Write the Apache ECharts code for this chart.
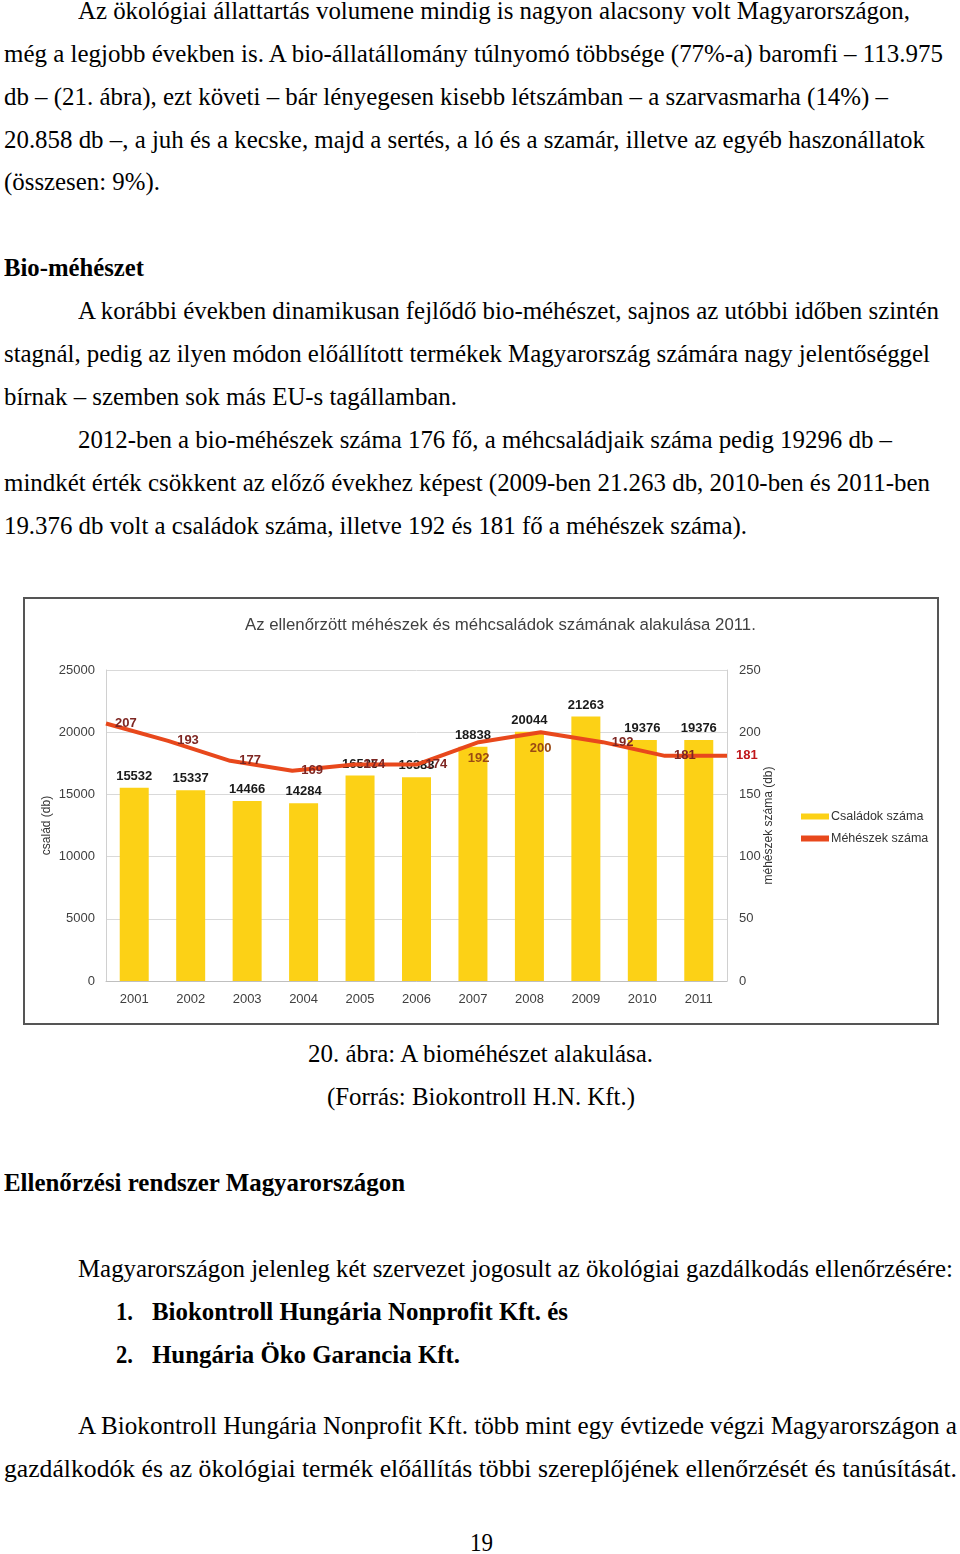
<!DOCTYPE html>
<html>
<head>
<meta charset="utf-8">
<script src="https://cdn.jsdelivr.net/npm/echarts@6/dist/echarts.min.js"></script>
<style>
  html, body { margin: 0; padding: 0; background: #fff; }
  body { width: 960px; height: 1554px; position: relative; overflow: hidden; }
  .ln { position: absolute; white-space: nowrap; font-family: "Liberation Serif", "DejaVu Serif", serif;
        font-size: 25px; line-height: 24px; color: #000; transform-origin: 0 0; }
  .b { font-weight: bold; }
  #box { position: absolute; left: 23px; top: 597px; width: 912px; height: 424px; border: 2px solid #555; }
  #chart { width: 912px; height: 424px; }
</style>
</head>
<body>
<div class="ln" style="left:78px;top:-1px" data-r="910">Az ökológiai állattartás volumene mindig is nagyon alacsony volt Magyarországon,</div>
<div class="ln" style="left:4px;top:42px" data-r="943">még a legjobb években is. A bio-állatállomány túlnyomó többsége (77%-a) baromfi – 113.975</div>
<div class="ln" style="left:4px;top:85px" data-r="888">db – (21. ábra), ezt követi – bár lényegesen kisebb létszámban – a szarvasmarha (14%) –</div>
<div class="ln" style="left:4px;top:128px" data-r="925">20.858 db –, a juh és a kecske, majd a sertés, a ló és a szamár, illetve az egyéb haszonállatok</div>
<div class="ln" style="left:4px;top:170px" data-r="160">(összesen: 9%).</div>

<div class="ln b" style="left:4px;top:256px" data-r="144">Bio-méhészet</div>
<div class="ln" style="left:78px;top:299px" data-r="939">A korábbi években dinamikusan fejlődő bio-méhészet, sajnos az utóbbi időben szintén</div>
<div class="ln" style="left:4px;top:342px" data-r="930">stagnál, pedig az ilyen módon előállított termékek Magyarország számára nagy jelentőséggel</div>
<div class="ln" style="left:4px;top:385px" data-r="457">bírnak – szemben sok más EU-s tagállamban.</div>
<div class="ln" style="left:78px;top:428px" data-r="892">2012-ben a bio-méhészek száma 176 fő, a méhcsaládjaik száma pedig 19296 db –</div>
<div class="ln" style="left:4px;top:471px" data-r="930">mindkét érték csökkent az előző évekhez képest (2009-ben 21.263 db, 2010-ben és 2011-ben</div>
<div class="ln" style="left:4px;top:514px" data-r="747">19.376 db volt a családok száma, illetve 192 és 181 fő a méhészek száma).</div>

<div id="box"><div id="chart"></div></div>

<div class="ln" style="left:308px;top:1042px" data-r="653">20. ábra: A bioméhészet alakulása.</div>
<div class="ln" style="left:327px;top:1085px" data-r="635">(Forrás: Biokontroll H.N. Kft.)</div>

<div class="ln b" style="left:4px;top:1171px" data-r="405">Ellenőrzési rendszer Magyarországon</div>
<div class="ln" style="left:78px;top:1257px" data-r="953">Magyarországon jelenleg két szervezet jogosult az ökológiai gazdálkodás ellenőrzésére:</div>
<div class="ln b" style="left:116px;top:1300px" data-r="133">1.</div>
<div class="ln b" style="left:152px;top:1300px" data-r="568">Biokontroll Hungária Nonprofit Kft. és</div>
<div class="ln b" style="left:116px;top:1343px" data-r="133">2.</div>
<div class="ln b" style="left:152px;top:1343px" data-r="460">Hungária Öko Garancia Kft.</div>
<div class="ln" style="left:78px;top:1414px" data-r="957">A Biokontroll Hungária Nonprofit Kft. több mint egy évtizede végzi Magyarországon a</div>
<div class="ln" style="left:4px;top:1457px" data-r="957">gazdálkodók és az ökológiai termék előállítás többi szereplőjének ellenőrzését és tanúsítását.</div>
<div class="ln" style="left:470px;top:1531px" data-r="493">19</div>

<script type="text/javascript">
  // chart data
  var years = ['2001', '2002', '2003', '2004', '2005', '2006', '2007', '2008', '2009', '2010', '2011'];
  var csaladok = [15532, 15337, 14466, 14284, 16525, 16383, 18838, 20044, 21263, 19376, 19376];
  var meheszek = [207, 193, 177, 169, 174, 174, 192, 200, 192, 181, 181];
  var leftAxis = { min: 0, max: 25000, interval: 5000 };
  var rightAxis = { min: 0, max: 250, interval: 50 };

  // squeeze each text line to the width it has in the scan
  document.querySelectorAll('.ln').forEach(function (el) {
    var l = parseFloat(el.style.left);
    var w = el.getBoundingClientRect().width;
    el.style.transform = 'scaleX(' + ((+el.dataset.r - l) / w) + ')';
  });

  var chart = echarts.init(document.getElementById('chart'));
  var sans = 'Liberation Sans, Arial, sans-serif';
  var last = meheszek.length - 1;
  // labels that sit under the line instead of to its right (2007, 2008)
  var below = { 6: true, 7: true };

  var option = {
    animation: false,
    textStyle: { fontFamily: sans },
    title: {
      text: 'Az ellenőrzött méhészek és méhcsaládok számának alakulása 2011.',
      left: 215, top: 13,
      textStyle: { fontSize: 16.8, fontWeight: 'normal', color: '#404040', fontFamily: sans }
    },
    legend: {
      orient: 'vertical', left: 776, top: 211, padding: 0, itemWidth: 28, itemHeight: 6, itemGap: 9,
      textStyle: { fontSize: 12.5, color: '#333', padding: [0, 0, 0, -3] },
      data: [{ name: 'Családok száma', icon: 'rect' }, { name: 'Méhészek száma', icon: 'rect', itemStyle: { color: '#e8481c' } }]
    },
    grid: { left: 81, top: 71, width: 621, height: 311 },
    xAxis: [{
      type: 'category', data: years, boundaryGap: true,
      axisLine: { lineStyle: { color: '#bfbfbf' } },
      axisTick: { length: 5, lineStyle: { color: '#bfbfbf' } },
      axisLabel: { fontSize: 13, color: '#404040', margin: 12 }
    }, {
      type: 'category', data: years, boundaryGap: false, show: false
    }],
    yAxis: [{
      type: 'value', min: leftAxis.min, max: leftAxis.max, interval: leftAxis.interval,
      name: 'család (db)', nameLocation: 'middle', nameGap: 53, nameMoveOverlap: false,
      nameTextStyle: { fontSize: 12, color: '#333' },
      axisLine: { show: true, lineStyle: { color: '#d0d0d0' } },
      axisTick: { show: false },
      axisLabel: { fontSize: 13, color: '#404040', margin: 11, formatter: function (v) { return String(v); } },
      splitLine: { lineStyle: { color: '#d9d9d9' } }
    }, {
      type: 'value', min: rightAxis.min, max: rightAxis.max, interval: rightAxis.interval,
      name: 'méhészek száma (db)', nameLocation: 'middle', nameGap: 36, nameMoveOverlap: false,
      nameTextStyle: { fontSize: 12, color: '#333' },
      axisLine: { show: true, lineStyle: { color: '#d0d0d0' } },
      axisTick: { show: false },
      axisLabel: { fontSize: 13, color: '#404040', margin: 12 },
      splitLine: { show: false }
    }],
    series: [{
      name: 'Családok száma', type: 'bar', data: csaladok, barWidth: 29,
      itemStyle: { color: '#fcd116' },
      label: { show: true, position: 'top', distance: 5, fontSize: 13, fontWeight: 'bold', color: '#1a1a1a' }
    }, {
      name: 'Méhészek száma', type: 'line', xAxisIndex: 1, yAxisIndex: 1,
      data: meheszek.map(function (v, i) {
        if (i === last) return { value: v, label: { color: '#c0171b' } };
        if (below[i]) return { value: v, label: { position: 'bottom', distance: 10, color: '#9a4a14' } };
        return v;
      }),
      symbol: 'circle', symbolSize: 0.1, showSymbol: true,
      lineStyle: { color: '#e8481c', width: 4 },
      itemStyle: { color: '#e8481c' },
      label: { show: true, position: 'right', distance: 9, fontSize: 13, fontWeight: 'bold', color: '#7e2622' }
    }]
  };
  chart.setOption(option);
</script>
</body>
</html>
